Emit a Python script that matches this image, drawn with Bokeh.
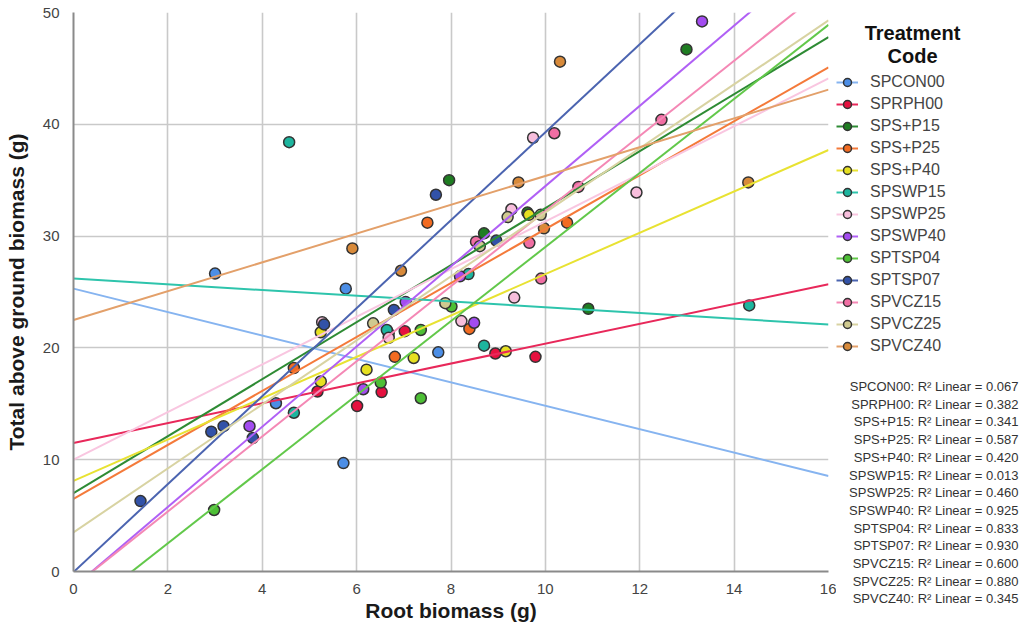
from bokeh.plotting import figure
from bokeh.models import Legend, LegendItem, Label, FixedTicker, Range1d, ColumnDataSource
from bokeh.layouts import row
from bokeh.embed import file_html
from bokeh.resources import INLINE

codes = ["SPCON00", "SPRPH00", "SPS+P15", "SPS+P25", "SPS+P40", "SPSWP15", "SPSWP25",
         "SPSWP40", "SPTSP04", "SPTSP07", "SPVCZ15", "SPVCZ25", "SPVCZ40"]
marker_colors = ["#4C8EE6", "#E5113F", "#1F7D22", "#F26B21", "#E6E021", "#1DB59E", "#F7BEDC",
                 "#A34CF0", "#4DBF35", "#3252A8", "#F06EA3", "#CFC98F", "#D88A3A"]
line_colors = ["#86B4F0", "#E8285A", "#2E8B34", "#F47A3A", "#E8E232", "#2EC4AC", "#F9C6E0",
               "#B060F5", "#62C84A", "#4B64B0", "#F488B5", "#D8D3A2", "#E3A06A"]
r2 = ["0.067", "0.382", "0.341", "0.587", "0.420", "0.013", "0.460",
      "0.925", "0.833", "0.930", "0.600", "0.880", "0.345"]
# fitted line: value at x = 0 and at x = 16
fit_x = [0, 16]
fit_y_at_0 = [25.3, 11.5, 7.0, 6.5, 8.1, 26.2, 10.0, -1.4, -4.1, -0.05, -1.35, 3.5, 22.5]
fit_y_at_16 = [8.55, 25.7, 47.8, 45.1, 37.7, 22.1, 44.1, 56.0, 48.9, 62.9, 52.4, 49.3, 43.1]

pt_code = (["SPCON00"] * 5 + ["SPRPH00"] * 6 + ["SPS+P15"] * 6 + ["SPS+P25"] * 5 +
           ["SPS+P40"] * 6 + ["SPSWP15"] * 6 + ["SPSWP25"] * 7 + ["SPSWP40"] * 6 +
           ["SPTSP04"] * 5 + ["SPTSP07"] * 8 + ["SPVCZ15"] * 6 + ["SPVCZ25"] * 5 + ["SPVCZ40"] * 6)
pt_x = [3.00, 5.77, 4.29, 5.72, 7.73,
        7.02, 5.17, 6.53, 6.01, 8.94, 9.79,
        7.96, 12.99, 8.70, 6.68, 10.91, 9.62,
        7.50, 10.46, 6.81, 4.67, 8.39,
        5.24, 6.21, 5.24, 7.21, 9.16, 9.65,
        4.57, 6.64, 4.67, 8.37, 8.70, 14.32,
        5.27, 6.68, 9.74, 11.93, 9.28, 8.22, 9.34,
        13.32, 3.73, 6.14, 7.04, 8.19, 8.49,
        2.98, 6.51, 7.36, 7.36, 8.01,
        1.42, 2.92, 3.18, 3.80, 5.31, 6.79, 7.68, 8.96,
        12.46, 10.19, 10.70, 8.53, 9.66, 9.91,
        6.35, 7.88, 9.20, 8.61, 9.90,
        5.91, 6.94, 10.31, 9.43, 14.30, 9.97]
pt_y = [26.65, 25.3, 15.05, 9.7, 19.6,
        21.5, 16.1, 16.05, 14.8, 19.5, 19.2,
        35.0, 46.7, 30.25, 21.3, 23.5, 32.1,
        31.2, 31.2, 19.2, 18.2, 21.7,
        21.4, 18.05, 17.0, 19.1, 19.7, 31.9,
        38.4, 21.6, 14.2, 26.6, 20.2, 23.8,
        22.3, 20.9, 38.8, 33.9, 32.4, 22.4, 24.5,
        49.2, 13.0, 16.3, 24.1, 26.4, 22.25,
        5.5, 16.9, 21.6, 15.5, 23.7,
        6.3, 12.5, 13.0, 11.95, 22.1, 23.4, 33.7, 29.6,
        40.4, 39.2, 34.4, 29.5, 29.4, 26.2,
        22.2, 24.0, 31.7, 29.1, 31.9,
        28.9, 26.9, 45.6, 34.8, 34.8, 30.7]

x_ticks = [0, 2, 4, 6, 8, 10, 12, 14, 16]
y_ticks = [0, 10, 20, 30, 40, 50]

FONT = "Liberation Sans"

# ---------------- main plot ----------------
p = figure(width=836, height=624, output_backend="svg", toolbar_location=None,
           x_range=Range1d(0, 16), y_range=Range1d(0, 50))
p.frame_align = False
p.min_border_left = 73
p.min_border_right = 8
p.min_border_top = 12
p.min_border_bottom = 52
p.outline_line_color = None

p.xaxis.ticker = FixedTicker(ticks=x_ticks)
p.yaxis.ticker = FixedTicker(ticks=y_ticks)
p.xgrid.ticker = FixedTicker(ticks=x_ticks[1:-1])
p.ygrid.ticker = FixedTicker(ticks=y_ticks[1:])
for g in (p.xgrid, p.ygrid):
    g.grid_line_color = "#c9c9c9"
    g.grid_line_width = 1.6

for ax in (p.xaxis, p.yaxis):
    ax.axis_line_color = "#8a8a8a"
    ax.axis_line_width = 2
    ax.major_tick_line_color = None
    ax.minor_tick_line_color = None
    ax.major_label_text_font = FONT
    ax.major_label_text_font_size = "15px"
    ax.major_label_text_color = "#444444"
    ax.axis_label_text_font = FONT
    ax.axis_label_text_font_style = "bold"
    ax.axis_label_text_font_size = "21px"
    ax.axis_label_text_color = "#1a1a1a"
p.xaxis.axis_label = "Root biomass (g)"
p.yaxis.axis_label = "Total above ground biomass (g)"
p.xaxis.major_label_standoff = 6
p.yaxis.major_label_standoff = 8
p.xaxis.axis_label_standoff = 2
p.yaxis.axis_label_standoff = 12

for i, c in enumerate(codes):
    xs = [x for x, k in zip(pt_x, pt_code) if k == c]
    ys = [y for y, k in zip(pt_y, pt_code) if k == c]
    p.scatter("x", "y", source=ColumnDataSource(dict(x=xs, y=ys)), size=11,
              fill_color=marker_colors[i], line_color="#333333", line_width=1.5)
for i, c in enumerate(codes):
    p.line(fit_x, [fit_y_at_0[i], fit_y_at_16[i]], line_color=line_colors[i], line_width=2)

# ---------------- side panel: legend + R squared ----------------
side = figure(width=184, height=624, output_backend="svg", toolbar_location=None,
              x_range=Range1d(0, 184), y_range=Range1d(624, 0),
              x_axis_location=None, y_axis_location=None)
side.frame_align = False
side.min_border_left = side.min_border_right = side.min_border_top = side.min_border_bottom = 0
side.outline_line_color = None
side.grid.visible = False

# legend proxies: one hidden point each, outside the visible panel
proxy = dict(x=[-100], y=[-100])
items = []
for i, c in enumerate(codes):
    src = ColumnDataSource(proxy)
    lr = side.line("x", "y", source=src, line_color=line_colors[i], line_width=2)
    sr = side.scatter("x", "y", source=src, size=12, fill_color=marker_colors[i],
                      line_color="#333333", line_width=1.5)
    items.append(LegendItem(label=c, renderers=[lr, sr]))

legend = Legend(items=items, location=(0, 268), padding=0, margin=0, spacing=2,
                glyph_height=20, glyph_width=22, label_height=20, label_standoff=12,
                label_text_font=FONT, label_text_font_size="16px",
                label_text_color="#444444", border_line_color=None,
                background_fill_alpha=0)
side.add_layout(legend, "center")

for t, yy in (("Treatment", 32), ("Code", 55)):
    side.add_layout(Label(x=76, y=yy, text=t, text_align="center", text_baseline="middle",
                          text_font=FONT, text_font_style="bold",
                          text_font_size="20px", text_color="#111111"))

for i, c in enumerate(codes):
    side.add_layout(Label(x=182, y=386 + 17.7 * i, text=f"{c}: R\u00b2 Linear = {r2[i]}",
                          text_align="right", text_baseline="middle", text_font=FONT,
                          text_font_size="13px", text_color="#333333"))

layout = row(p, side, spacing=0)
open("out.html", "w").write(file_html(layout, INLINE))
